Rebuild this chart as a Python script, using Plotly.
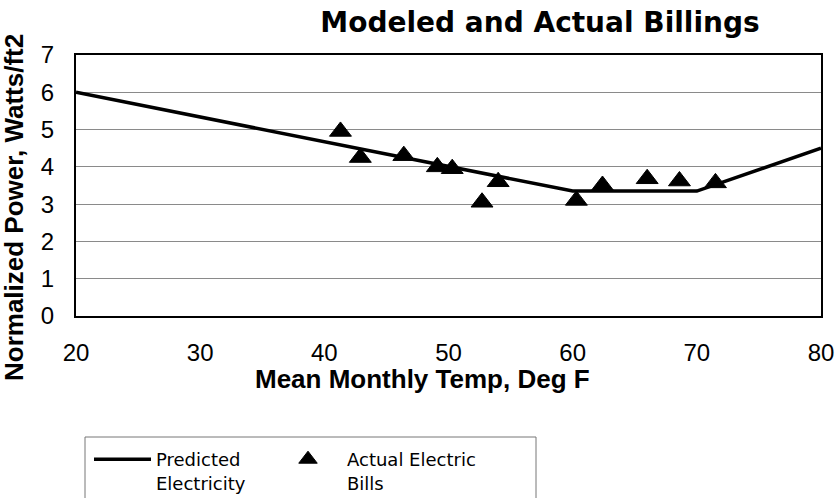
import plotly.graph_objects as go

# Predicted electricity (model line)
pred_temp = [20, 60, 70, 80]
pred_power = [6.0, 3.35, 3.35, 4.5]

# Actual electric bills
bill_temp = [41.3, 42.9, 46.4, 49.1, 50.3, 52.7, 54.0, 60.3, 62.4, 66.0, 68.6, 71.5]
bill_power = [4.95, 4.25, 4.3, 4.0, 3.95, 3.05, 3.6, 3.1, 3.5, 3.68, 3.62, 3.57]

x_ticks = [20, 30, 40, 50, 60, 70, 80]
y_ticks = [0, 1, 2, 3, 4, 5, 6, 7]

ARIAL = "Liberation Sans, Arial, sans-serif"
WIDE = "DejaVu Sans, Liberation Sans, sans-serif"

fig = go.Figure()
fig.add_trace(go.Scatter(
    x=pred_temp, y=pred_power, mode="lines",
    name="Predicted<br>Electricity", legend="legend",
    line=dict(color="black", width=3.5),
))
fig.add_trace(go.Scatter(
    x=bill_temp, y=bill_power, mode="markers",
    name="Actual Electric<br>Bills", legend="legend2",
    marker=dict(symbol="triangle-up", size=19, color="black",
                line=dict(color="black", width=1)),
))

L, R, T, B = 76, 19, 55, 182
W, H = 840, 498
pw = W - L - R
ph = H - T - B

def px_x(p):
    return (p - L) / pw

def px_y(p):
    return (H - B - p) / ph

leg_common = dict(orientation="v", xanchor="left", yanchor="top", valign="top",
                  font=dict(size=18, family=WIDE, color="black"),
                  bgcolor="rgba(0,0,0,0)", borderwidth=0)

fig.update_layout(
    width=W, height=H,
    margin=dict(l=L, r=R, t=T, b=B, autoexpand=False),
    paper_bgcolor="white", plot_bgcolor="white",
    font=dict(family=ARIAL, color="black"),
    title=dict(text="<b>Modeled and Actual Billings</b>",
               x=px_x(540), xanchor="center", xref="paper",
               y=1 - 32 / H, yanchor="bottom",
               font=dict(size=28, family=WIDE, color="black")),
    showlegend=True,
    legend=dict(x=px_x(89), y=px_y(441), itemwidth=57, **leg_common),
    legend2=dict(x=px_x(269), y=px_y(441), itemwidth=68, **leg_common),
    shapes=[dict(type="rect", xref="paper", yref="paper",
                 x0=px_x(85), x1=px_x(536), y0=px_y(520), y1=px_y(437),
                 line=dict(color="#777777", width=1), fillcolor="rgba(0,0,0,0)",
                 layer="below")],
    annotations=[
        dict(text="<b>Mean Monthly Temp, Deg F</b>", xref="paper", yref="paper",
             x=px_x(422), y=px_y(379), xanchor="center", yanchor="middle",
             showarrow=False, font=dict(size=26, family=ARIAL, color="black")),
        dict(text="<b>Normalized Power, Watts/ft2</b>", xref="paper", yref="paper",
             x=px_x(14), y=px_y(208), xanchor="center", yanchor="middle",
             textangle=-90, showarrow=False,
             font=dict(size=26, family=ARIAL, color="black")),
    ],
)

fig.update_xaxes(
    range=[20, 80], tickvals=x_ticks, ticktext=[str(v) for v in x_ticks],
    showgrid=False, zeroline=False,
    showline=True, mirror=True, linecolor="black", linewidth=2,
    ticks="", ticklabelstandoff=14,
    tickfont=dict(size=24, family=ARIAL, color="black"),
)
fig.update_yaxes(
    range=[0, 7], tickvals=y_ticks, ticktext=[str(v) for v in y_ticks],
    showgrid=True, gridcolor="#8a8a8a", gridwidth=1, zeroline=False,
    showline=True, mirror=True, linecolor="black", linewidth=2,
    ticks="", ticklabelstandoff=15,
    tickfont=dict(size=24, family=ARIAL, color="black"),
)

fig.write_html("out.html")
